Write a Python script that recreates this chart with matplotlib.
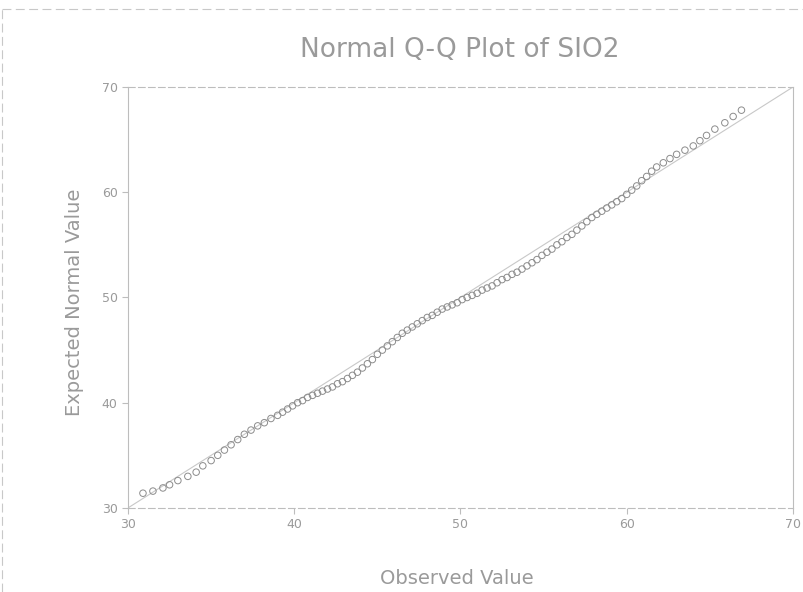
import numpy as np
import matplotlib
matplotlib.use('Agg')
import matplotlib.pyplot as plt
from matplotlib.lines import Line2D

observed = [30.9, 31.5, 32.1, 32.5, 33.0, 33.6, 34.1, 34.5, 35.0, 35.4,
            35.8, 36.2, 36.6, 37.0, 37.4, 37.8, 38.2, 38.6, 39.0, 39.3,
            39.6, 39.9, 40.2, 40.5, 40.8, 41.1, 41.4, 41.7, 42.0, 42.3,
            42.6, 42.9, 43.2, 43.5, 43.8, 44.1, 44.4, 44.7, 45.0, 45.3,
            45.6, 45.9, 46.2, 46.5, 46.8, 47.1, 47.4, 47.7, 48.0, 48.3,
            48.6, 48.9, 49.2, 49.5, 49.8, 50.1, 50.4, 50.7, 51.0, 51.3,
            51.6, 51.9, 52.2, 52.5, 52.8, 53.1, 53.4, 53.7, 54.0, 54.3,
            54.6, 54.9, 55.2, 55.5, 55.8, 56.1, 56.4, 56.7, 57.0, 57.3,
            57.6, 57.9, 58.2, 58.5, 58.8, 59.1, 59.4, 59.7, 60.0, 60.3,
            60.6, 60.9, 61.2, 61.5, 61.8, 62.2, 62.6, 63.0, 63.5, 64.0,
            64.4, 64.8, 65.3, 65.9, 66.4, 66.9]
expected = [31.4, 31.6, 31.9, 32.2, 32.6, 33.0, 33.4, 34.0, 34.5, 35.0,
            35.5, 36.0, 36.5, 37.0, 37.4, 37.8, 38.1, 38.5, 38.8, 39.1,
            39.4, 39.7, 40.0, 40.2, 40.5, 40.7, 40.9, 41.1, 41.3, 41.5,
            41.8, 42.0, 42.3, 42.6, 42.9, 43.3, 43.7, 44.1, 44.6, 45.0,
            45.4, 45.8, 46.2, 46.6, 46.9, 47.2, 47.5, 47.8, 48.1, 48.3,
            48.6, 48.9, 49.1, 49.3, 49.5, 49.8, 50.0, 50.2, 50.4, 50.7,
            50.9, 51.1, 51.4, 51.7, 51.9, 52.2, 52.4, 52.7, 53.0, 53.3,
            53.6, 54.0, 54.3, 54.6, 55.0, 55.3, 55.7, 56.0, 56.4, 56.8,
            57.2, 57.6, 57.9, 58.2, 58.5, 58.8, 59.1, 59.4, 59.8, 60.2,
            60.6, 61.1, 61.5, 62.0, 62.4, 62.8, 63.2, 63.6, 64.0, 64.4,
            64.9, 65.4, 66.0, 66.6, 67.2, 67.8]
ticks = [30, 40, 50, 60, 70]

grey_txt = '#9a9a9a'
grey_line = '#bdbdbd'

fig = plt.figure(figsize=(8.04, 5.92), dpi=100)
ax = fig.add_axes([0.1592, 0.142, 0.8271, 0.711])

# linha de referência y = x
ax.plot(ticks, ticks, color='#c8c8c8', linewidth=0.8, zorder=1)
ax.scatter(observed, expected, s=22, facecolors='none', edgecolors='#8c8c8c',
           linewidths=0.7, zorder=2)

ax.set_xlim(30, 70)
ax.set_ylim(30, 70)
ax.set_xticks(ticks)
ax.set_yticks(ticks)
ax.tick_params(colors=grey_line, labelcolor=grey_txt, labelsize=9, length=4)

for side in ['top', 'bottom']:
    ax.spines[side].set_linestyle((0, (6, 3)))
for side in ax.spines:
    ax.spines[side].set_color(grey_line)
    ax.spines[side].set_linewidth(0.8)

fig.text(0.572, 0.916, 'Normal Q-Q Plot of SIO2', ha='center', va='center',
         fontsize=19, color=grey_txt)
fig.text(0.568, 0.022, 'Observed Value', ha='center', va='center',
         fontsize=14, color=grey_txt)
fig.text(0.093, 0.49, 'Expected Normal Value', ha='center', va='center',
         rotation=90, fontsize=14, color=grey_txt)

# moldura tracejada do documento escaneado
fig.add_artist(Line2D([0.003, 0.003], [0, 0.985], color='#c8c8c8',
                      linewidth=0.8, linestyle=(0, (8, 4))))
fig.add_artist(Line2D([0.003, 1.0], [0.985, 0.985], color='#c8c8c8',
                      linewidth=0.8, linestyle=(0, (8, 4))))

fig.savefig('out.png', dpi=100)
